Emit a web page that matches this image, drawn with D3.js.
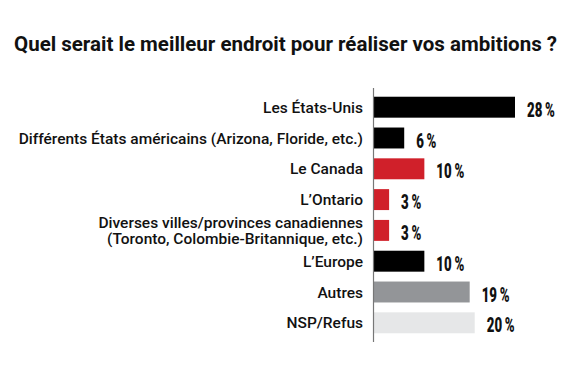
<!DOCTYPE html>
<html>
<head>
<meta charset="utf-8">
<script src="https://cdn.jsdelivr.net/npm/d3@7"></script>
<style>
  html, body { margin: 0; padding: 0; background: #fff; }
  svg { display: block; }
</style>
</head>
<body>
<svg id="chart" width="570" height="380"></svg>
<script>
const title = "Quel serait le meilleur endroit pour réaliser vos ambitions ?";
const categories = [
  ["Les États-Unis"],
  ["Différents États américains (Arizona, Floride, etc.)"],
  ["Le Canada"],
  ["L’Ontario"],
  ["Diverses villes/provinces canadiennes", "(Toronto, Colombie-Britannique, etc.)"],
  ["L’Europe"],
  ["Autres"],
  ["NSP/Refus"]
];
const values = [28, 6, 10, 3, 3, 10, 19, 20];
const groups = ["etr", "etr", "can", "can", "can", "etr", "autres", "nsp"];
const groupNames = ["etr", "can", "autres", "nsp"];
const groupColors = ["#000000", "#d0202a", "#939598", "#e6e7e8"];

const svg = d3.select("#chart");

const x = d3.scaleLinear().domain([0, 28]).range([374, 515]);
const y = d3.scaleBand().domain(d3.range(values.length)).range([91.8, 338.2]).paddingInner(0.32).paddingOuter(0.16);
const color = d3.scaleOrdinal().domain(groupNames).range(groupColors);

// title
const t = svg.append("text")
  .attr("x", 14).attr("y", 51)
  .attr("font-family", "Roboto, 'Liberation Sans', sans-serif")
  .attr("font-weight", 700)
  .attr("font-size", 20)
  .attr("fill", "#111")
  .text(title);
const tw = t.node().getComputedTextLength();
if (Math.abs(tw - 543) > 3) t.attr("textLength", 543).attr("lengthAdjust", "spacingAndGlyphs");

// bars
svg.append("g").selectAll("rect")
  .data(values)
  .join("rect")
  .attr("x", x(0))
  .attr("y", (d, i) => y(i))
  .attr("width", d => x(d) - x(0))
  .attr("height", y.bandwidth())
  .attr("fill", (d, i) => color(groups[i]));

// axis line
const axis = d3.axisLeft(y).tickSize(0).tickFormat("");
const ag = svg.append("g").attr("transform", `translate(${x(0) - 0.5},0)`).call(axis);
ag.select(".domain").attr("d", "M0,88V342").attr("stroke", "#777").attr("stroke-width", 1.2);

// category labels
const lab = svg.append("g")
  .attr("font-family", "Roboto, 'Liberation Sans', sans-serif")
  .attr("font-weight", 500)
  .attr("font-size", 15.5)
  .attr("fill", "#111")
  .attr("text-anchor", "end");
categories.forEach((lines, i) => {
  const cy = y(i) + y.bandwidth() / 2;
  const n = lines.length;
  lines.forEach((ln, j) => {
    lab.append("text")
      .attr("x", 363)
      .attr("y", cy + 5.5 + (j - (n - 1) / 2) * 16.5)
      .text(ln);
  });
});

// value labels (condensed)
svg.append("g")
  .attr("font-family", "Roboto, 'Liberation Sans', sans-serif")
  .attr("font-weight", 900)
  .attr("font-size", 19.5)
  .attr("fill", "#111")
  .selectAll("text")
  .data(values)
  .join("text")
  .attr("transform", (d, i) => `translate(${x(d) + 12},${y(i) + y.bandwidth() / 2 + 9.5}) scale(0.68,1)`)
  .text(d => d + "\u2009%");
</script>
</body>
</html>
